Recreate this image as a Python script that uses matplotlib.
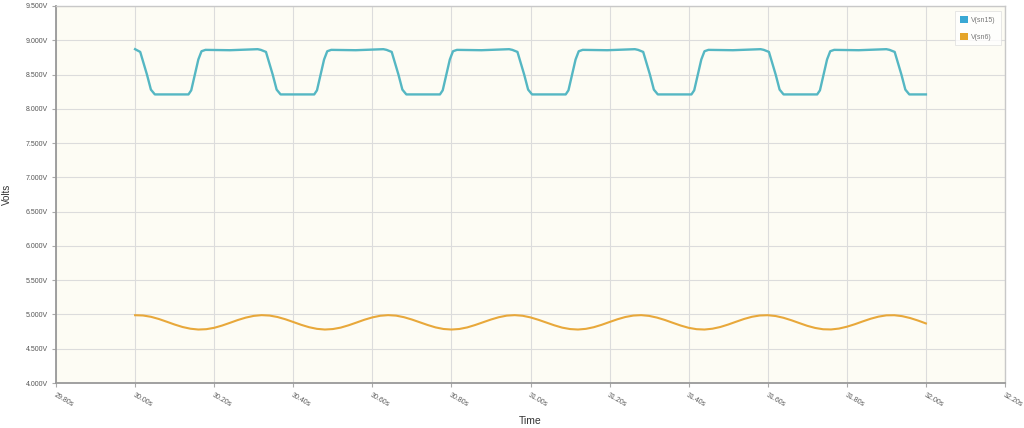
import numpy as np
import matplotlib
matplotlib.use('Agg')
import matplotlib.pyplot as plt
from matplotlib.patches import Patch

plt.rcParams['font.family'] = ['Liberation Sans', 'DejaVu Sans']

# V(sn15) - breakpoints
t_sn15 = [30.000, 30.013, 30.030, 30.040, 30.050, 30.135, 30.142, 30.160, 30.168, 30.178, 30.240, 30.310,
          30.318, 30.331, 30.348, 30.358, 30.368, 30.453, 30.460, 30.478, 30.486, 30.496, 30.558, 30.628,
          30.636, 30.649, 30.666, 30.676, 30.686, 30.771, 30.778, 30.796, 30.804, 30.814, 30.876, 30.946,
          30.954, 30.967, 30.984, 30.994, 31.004, 31.089, 31.096, 31.114, 31.122, 31.132, 31.194, 31.264,
          31.272, 31.285, 31.302, 31.312, 31.322, 31.407, 31.414, 31.432, 31.440, 31.450, 31.512, 31.582,
          31.590, 31.603, 31.620, 31.630, 31.640, 31.725, 31.732, 31.750, 31.758, 31.768, 31.830, 31.900,
          31.908, 31.921, 31.938, 31.948, 31.958, 32.000]
v_sn15 = [8.87, 8.83, 8.50, 8.28, 8.21, 8.21, 8.27, 8.72, 8.84, 8.86, 8.855, 8.87,
          8.86, 8.83, 8.50, 8.28, 8.21, 8.21, 8.27, 8.72, 8.84, 8.86, 8.855, 8.87,
          8.86, 8.83, 8.50, 8.28, 8.21, 8.21, 8.27, 8.72, 8.84, 8.86, 8.855, 8.87,
          8.86, 8.83, 8.50, 8.28, 8.21, 8.21, 8.27, 8.72, 8.84, 8.86, 8.855, 8.87,
          8.86, 8.83, 8.50, 8.28, 8.21, 8.21, 8.27, 8.72, 8.84, 8.86, 8.855, 8.87,
          8.86, 8.83, 8.50, 8.28, 8.21, 8.21, 8.27, 8.72, 8.84, 8.86, 8.855, 8.87,
          8.86, 8.83, 8.50, 8.28, 8.21, 8.21]

# V(sn6) - sampled every 20 ms
t_sn6 = np.linspace(30.0, 32.0, 101)
v_sn6 = [4.989, 4.985, 4.966, 4.934, 4.894, 4.853, 4.817, 4.792, 4.780, 4.785, 4.805, 4.838, 4.878, 4.919, 4.954, 4.979,
         4.990, 4.984, 4.963, 4.930, 4.890, 4.849, 4.814, 4.790, 4.780, 4.787, 4.808, 4.842, 4.882, 4.923, 4.957, 4.981,
         4.990, 4.983, 4.960, 4.926, 4.886, 4.846, 4.811, 4.788, 4.780, 4.788, 4.811, 4.846, 4.886, 4.926, 4.960, 4.983,
         4.990, 4.981, 4.957, 4.922, 4.882, 4.842, 4.808, 4.787, 4.780, 4.790, 4.814, 4.849, 4.890, 4.930, 4.963, 4.984,
         4.990, 4.979, 4.954, 4.919, 4.878, 4.838, 4.805, 4.785, 4.780, 4.792, 4.817, 4.853, 4.894, 4.934, 4.966, 4.985,
         4.989, 4.977, 4.951, 4.915, 4.874, 4.834, 4.803, 4.784, 4.781, 4.794, 4.821, 4.857, 4.898, 4.937, 4.968, 4.987,
         4.989, 4.975, 4.948, 4.911, 4.869]

series_names = ['V(sn15)', 'V(sn6)']
line_colors = ['#55b7c3', '#e8a83a']
legend_colors = ['#3aa8d4', '#e5a52a']

x_ticks = [29.8, 30.0, 30.2, 30.4, 30.6, 30.8, 31.0, 31.2, 31.4, 31.6, 31.8, 32.0, 32.2]
y_ticks = [4.0, 4.5, 5.0, 5.5, 6.0, 6.5, 7.0, 7.5, 8.0, 8.5, 9.0, 9.5]

fig = plt.figure(figsize=(10.24, 4.28), dpi=100)
ax = fig.add_axes([56/1024, 1 - 383/428, 949/1024, 377/428])
ax.set_facecolor('#fdfcf4')

ax.plot(t_sn15, v_sn15, color=line_colors[0], lw=1.7, solid_joinstyle='round')
ax.plot(t_sn6, v_sn6, color=line_colors[1], lw=1.5)

ax.set_xlim(29.8, 32.2)
ax.set_ylim(4.0, 9.5)
ax.set_xticks(x_ticks)
ax.set_yticks(y_ticks)
ax.set_xticklabels(['%.2fs' % x for x in x_ticks], rotation=-30, ha='left', va='top',
                   rotation_mode='anchor', fontsize=5, color='#555555')
ax.set_yticklabels(['%.3fV' % y for y in y_ticks], fontsize=5, color='#555555')
ax.tick_params(axis='both', length=3, color='#aaaaaa', pad=3)
ax.grid(True, color='#dcdcdc', lw=0.8)
ax.set_axisbelow(True)

for s in ['left', 'bottom']:
    ax.spines[s].set_color('#999999')
    ax.spines[s].set_linewidth(1.3)
for s in ['top', 'right']:
    ax.spines[s].set_color('#c8c8c8')
    ax.spines[s].set_linewidth(1.0)

ax.set_xlabel('Time', fontsize=7.5, color='#333333', labelpad=6)
ax.set_ylabel('Volts', fontsize=7, color='#333333')
ax.yaxis.set_label_coords(-0.046, 0.5)

handles = [Patch(facecolor=c, edgecolor='none') for c in legend_colors]
leg = ax.legend(handles, series_names, loc='upper right', fontsize=5, frameon=True,
                handlelength=1.1, handleheight=1.1, labelspacing=1.3, borderpad=0.7,
                handletextpad=0.5, bbox_to_anchor=(0.999, 0.995), fancybox=False)
leg.get_frame().set_edgecolor('#dddddd')
leg.get_frame().set_facecolor('#ffffff')
leg.get_frame().set_linewidth(0.6)
for txt in leg.get_texts():
    txt.set_color('#777777')

fig.savefig('out.png', dpi=100, facecolor='white')
